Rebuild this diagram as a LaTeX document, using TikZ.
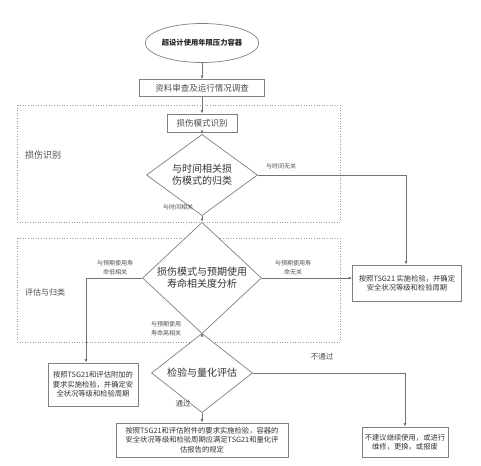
\documentclass[tikz,border=0pt]{standalone}
\usepackage{fontspec}
\setmainfont{Noto Sans CJK SC}
\usetikzlibrary{arrows.meta,shapes.geometric}
\tikzset{
  startnode/.style={
    ellipse,
    draw=black!50,
    fill=white,
    line width=0.7pt,
    minimum width=95pt,
    minimum height=39pt,
    inner sep=0pt,
    text=black!85,
    font=\fontsize{7.3}{9}\selectfont\bfseries
  },
  procbox/.style={
    rectangle,
    draw=black!50,
    fill=white,
    line width=0.8pt,
    inner sep=1pt,
    text=black!70,
    font=\fontsize{8.5}{10}\selectfont
  },
  resultbox/.style={
    rectangle,
    draw=black!50,
    fill=white,
    line width=0.8pt,
    inner sep=1pt,
    align=center,
    text=black!80,
    font=\fontsize{7.3}{9.3}\selectfont
  },
  decision/.style={
    diamond,
    draw=black!50,
    fill=white,
    line width=0.7pt,
    inner sep=0pt,
    align=center,
    text=black!80,
    font=\fontsize{10}{12}\selectfont
  },
  connection/.style={
    line width=0.7pt,
    draw=black!55,
    -{Latex[length=3.5pt,width=3pt]}
  },
  stagebox/.style={
    draw=black!40,
    dotted,
    line width=0.6pt
  },
  edgelabel/.style={
    align=center,
    inner sep=0pt,
    text=black!70,
    font=\fontsize{6}{9}\selectfont
  },
  stagelabel/.style={
    inner sep=0pt,
    text=black!70,
    font=\fontsize{9}{11}\selectfont
  }
}

\begin{document}
\begin{tikzpicture}[x=1pt,y=-1pt]
  \useasboundingbox (0,0) rectangle (481,465);

  % ------------------------------------------------------------------
  % stage frames
  % ------------------------------------------------------------------
  \draw[stagebox] (17,105) rectangle (340,222);
  \draw[stagebox] (17,238) rectangle (340,342);
  \node[stagelabel] (stageA) at (43,155) {损伤识别};
  \node[stagelabel, font=\fontsize{8}{10}\selectfont] (stageB) at (45,292) {评估与归类};

  % ------------------------------------------------------------------
  % main column
  % ------------------------------------------------------------------
  \node[startnode] (vessel) at (202,43) {超设计使用年限压力容器};
  \node[procbox, minimum width=125pt, minimum height=17pt] (review) at (202,88) {资料审查及运行情况调查};
  \node[procbox, minimum width=70pt, minimum height=18pt] (ident) at (202,123) {损伤模式识别};
  \node[decision, minimum width=111pt, minimum height=59pt] (timecls) at (202,175) {与时间相关损\\伤模式的归类};
  \node[decision, minimum width=119pt, minimum height=85pt] (lifecorr) at (202,278) {损伤模式与预期使用\\寿命相关度分析};
  \node[decision, minimum width=101pt, minimum height=51pt] (quant) at (202,373) {检验与量化评估};

  % ------------------------------------------------------------------
  % results
  % ------------------------------------------------------------------
  \node[resultbox, minimum width=109pt, minimum height=36pt] (tsgonly) at (407,283) {按照TSG21 实施检验，并确定\\安全状况等级和检验周期};
  \node[resultbox, minimum width=90pt, minimum height=43pt] (tsgextra) at (93,384.5) {按照TSG21和评估附加的\\要求实施检验，并确定安\\全状况等级和检验周期};
  \node[resultbox, minimum width=172pt, minimum height=34pt] (tsgquant) at (202,440) {按照TSG21和评估附件的要求实施检验，容器的\\安全状况等级和检验周期应满足TSG21和量化评\\估报告的规定};
  \node[resultbox, minimum width=86pt, minimum height=30pt] (reject) at (405,442) {不建议继续使用，或进行\\维修，更换，或报废};

  % ------------------------------------------------------------------
  % connectors
  % ------------------------------------------------------------------
  \draw[connection] (vessel) -- (review);
  \draw[connection] (review) -- (ident);
  \draw[connection] (ident) -- (timecls);
  \draw[connection] (timecls) -- (lifecorr);
  \draw[connection] (timecls.east) -| ([xshift=-1pt]tsgonly.north);
  \draw[connection] (lifecorr.east) -- (lifecorr.east -| tsgonly.west);
  \draw[connection] (lifecorr.west) -| ([xshift=-7pt]tsgextra.north);
  \draw[connection] (lifecorr) -- (quant);
  \draw[connection] (quant) -- (tsgquant);
  \draw[connection] (quant.east) -| (reject.north);

  % connector labels
  \node[edgelabel] (lblnotime) at (281,166) {与时间无关};
  \node[edgelabel] (lbltime) at (178,207) {与时间相关};
  \node[edgelabel] (lbllow) at (115,268) {与预期使用寿\\命低相关};
  \node[edgelabel] (lblnone) at (293,268) {与预期使用寿\\命无关};
  \node[edgelabel] (lblhigh) at (166,329) {与预期使用\\寿命高相关};
  \node[edgelabel, font=\fontsize{7.5}{9}\selectfont] (lblfail) at (322,357) {不通过};
  \node[edgelabel, font=\fontsize{7.5}{9}\selectfont] (lblpass) at (183,404) {通过};
\end{tikzpicture}
\end{document}
